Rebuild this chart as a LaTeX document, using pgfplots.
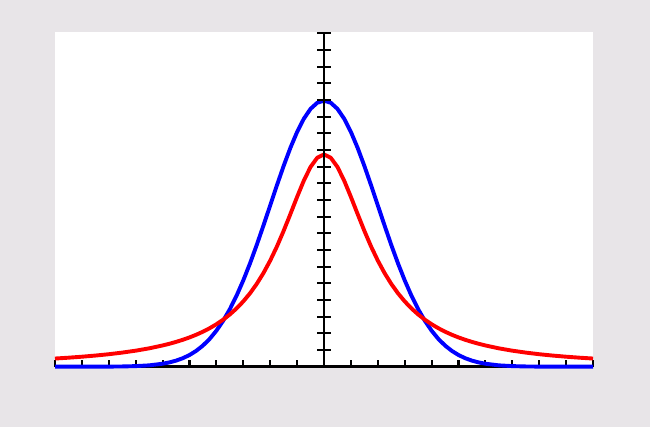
\documentclass[border=0pt]{standalone}
\usepackage{pgfplots}
\pgfplotsset{compat=1.18}
\definecolor{bgc}{RGB}{232,229,232}
\begin{document}
\begin{tikzpicture}
\fill[bgc] (0,0) rectangle (650pt,427pt);
\fill[white] (55pt,59pt) rectangle (593pt,395pt);
\begin{axis}[
  at={(55pt,60.3pt)}, anchor=south west,
  scale only axis, width=538pt, height=333.4pt,
  xmin=-10, xmax=10, ymin=0, ymax=0.25,
  axis x line=bottom, axis y line=none,
  axis line style={-, line width=2.4pt, black},
  xtick={-10,-9,...,10}, ytick=\empty,
  xticklabels={}, 
  tick align=inside, major tick length=6.5pt,
  tick style={line width=2.1pt, black},
  clip=false,
]
\addplot[blue, line width=3.9pt, line join=round] coordinates {
(-10,0) (-9.5,0) (-9,0.000005) (-8.5,0.00002) (-8,0.00007) (-7.5,0.00018) (-7,0.00044) (-6.5,0.00101) (-6,0.00222) (-5.75,0.00320) (-5.5,0.00455) (-5.25,0.00636) (-5,0.00876) (-4.75,0.01189) (-4.5,0.01587) (-4.25,0.02086) (-4,0.02700) (-3.75,0.03439) (-3.5,0.04314) (-3.25,0.05327) (-3,0.06476) (-2.75,0.07751) (-2.5,0.09132) (-2.25,0.10594) (-2,0.12099) (-1.75,0.13603) (-1.5,0.15057) (-1.25,0.16408) (-1,0.17603) (-0.75,0.18593) (-0.5,0.19334) (-0.25,0.19792) (0,0.19947)
(0.25,0.19792) (0.5,0.19334) (0.75,0.18593) (1,0.17603) (1.25,0.16408) (1.5,0.15057) (1.75,0.13603) (2,0.12099) (2.25,0.10594) (2.5,0.09132) (2.75,0.07751) (3,0.06476) (3.25,0.05327) (3.5,0.04314) (3.75,0.03439) (4,0.02700) (4.25,0.02086) (4.5,0.01587) (4.75,0.01189) (5,0.00876) (5.25,0.00636) (5.5,0.00455) (5.75,0.00320) (6,0.00222) (6.5,0.00101) (7,0.00044) (7.5,0.00018) (8,0.00007) (8.5,0.00002) (9,0.000005) (9.5,0) (10,0)
};
\addplot[red, line width=3.9pt, line join=round] coordinates {
(-10,0.00612) (-9.5,0.00675) (-9,0.00749) (-8.5,0.00835) (-8,0.00936) (-7.5,0.01057) (-7,0.01201) (-6.5,0.01376) (-6,0.01592) (-5.75,0.01718) (-5.5,0.01859) (-5.25,0.02017) (-5,0.02195) (-4.75,0.02397) (-4.5,0.02625) (-4.25,0.02886) (-4,0.03183) (-3.75,0.03525) (-3.5,0.03918) (-3.25,0.04372) (-3,0.04897) (-2.75,0.05506) (-2.5,0.06211) (-2.25,0.07025) (-2,0.07958) (-1.75,0.09014) (-1.5,0.10186) (-1.25,0.11445) (-1,0.12732) (-0.75,0.13953) (-0.5,0.14979) (-0.25,0.15671) (0,0.15915)
(0.25,0.15671) (0.5,0.14979) (0.75,0.13953) (1,0.12732) (1.25,0.11445) (1.5,0.10186) (1.75,0.09014) (2,0.07958) (2.25,0.07025) (2.5,0.06211) (2.75,0.05506) (3,0.04897) (3.25,0.04372) (3.5,0.03918) (3.75,0.03525) (4,0.03183) (4.25,0.02886) (4.5,0.02625) (4.75,0.02397) (5,0.02195) (5.25,0.02017) (5.5,0.01859) (5.75,0.01718) (6,0.01592) (6.5,0.01376) (7,0.01201) (7.5,0.01057) (8,0.00936) (8.5,0.00835) (9,0.00749) (9.5,0.00675) (10,0.00612)
};
\end{axis}
\begin{axis}[
  at={(55pt,60.3pt)}, anchor=south west,
  scale only axis, width=538pt, height=333.4pt,
  xmin=-10, xmax=10, ymin=0, ymax=0.25,
  axis x line=none, axis y line=middle,
  axis line style={-, line width=2.6pt, black},
  xtick=\empty, yticklabels={},
  ytick={0,0.0125,0.025,0.0375,0.05,0.0625,0.075,0.0875,0.1,0.1125,0.125,0.1375,0.15,0.1625,0.175,0.1875,0.2,0.2125,0.225,0.2375,0.25},
  tick align=center, major tick length=13.5pt,
  tick style={line width=2.1pt, black},
]
\addplot[draw=none] coordinates {(0,0)};
\end{axis}
\end{tikzpicture}
\end{document}
